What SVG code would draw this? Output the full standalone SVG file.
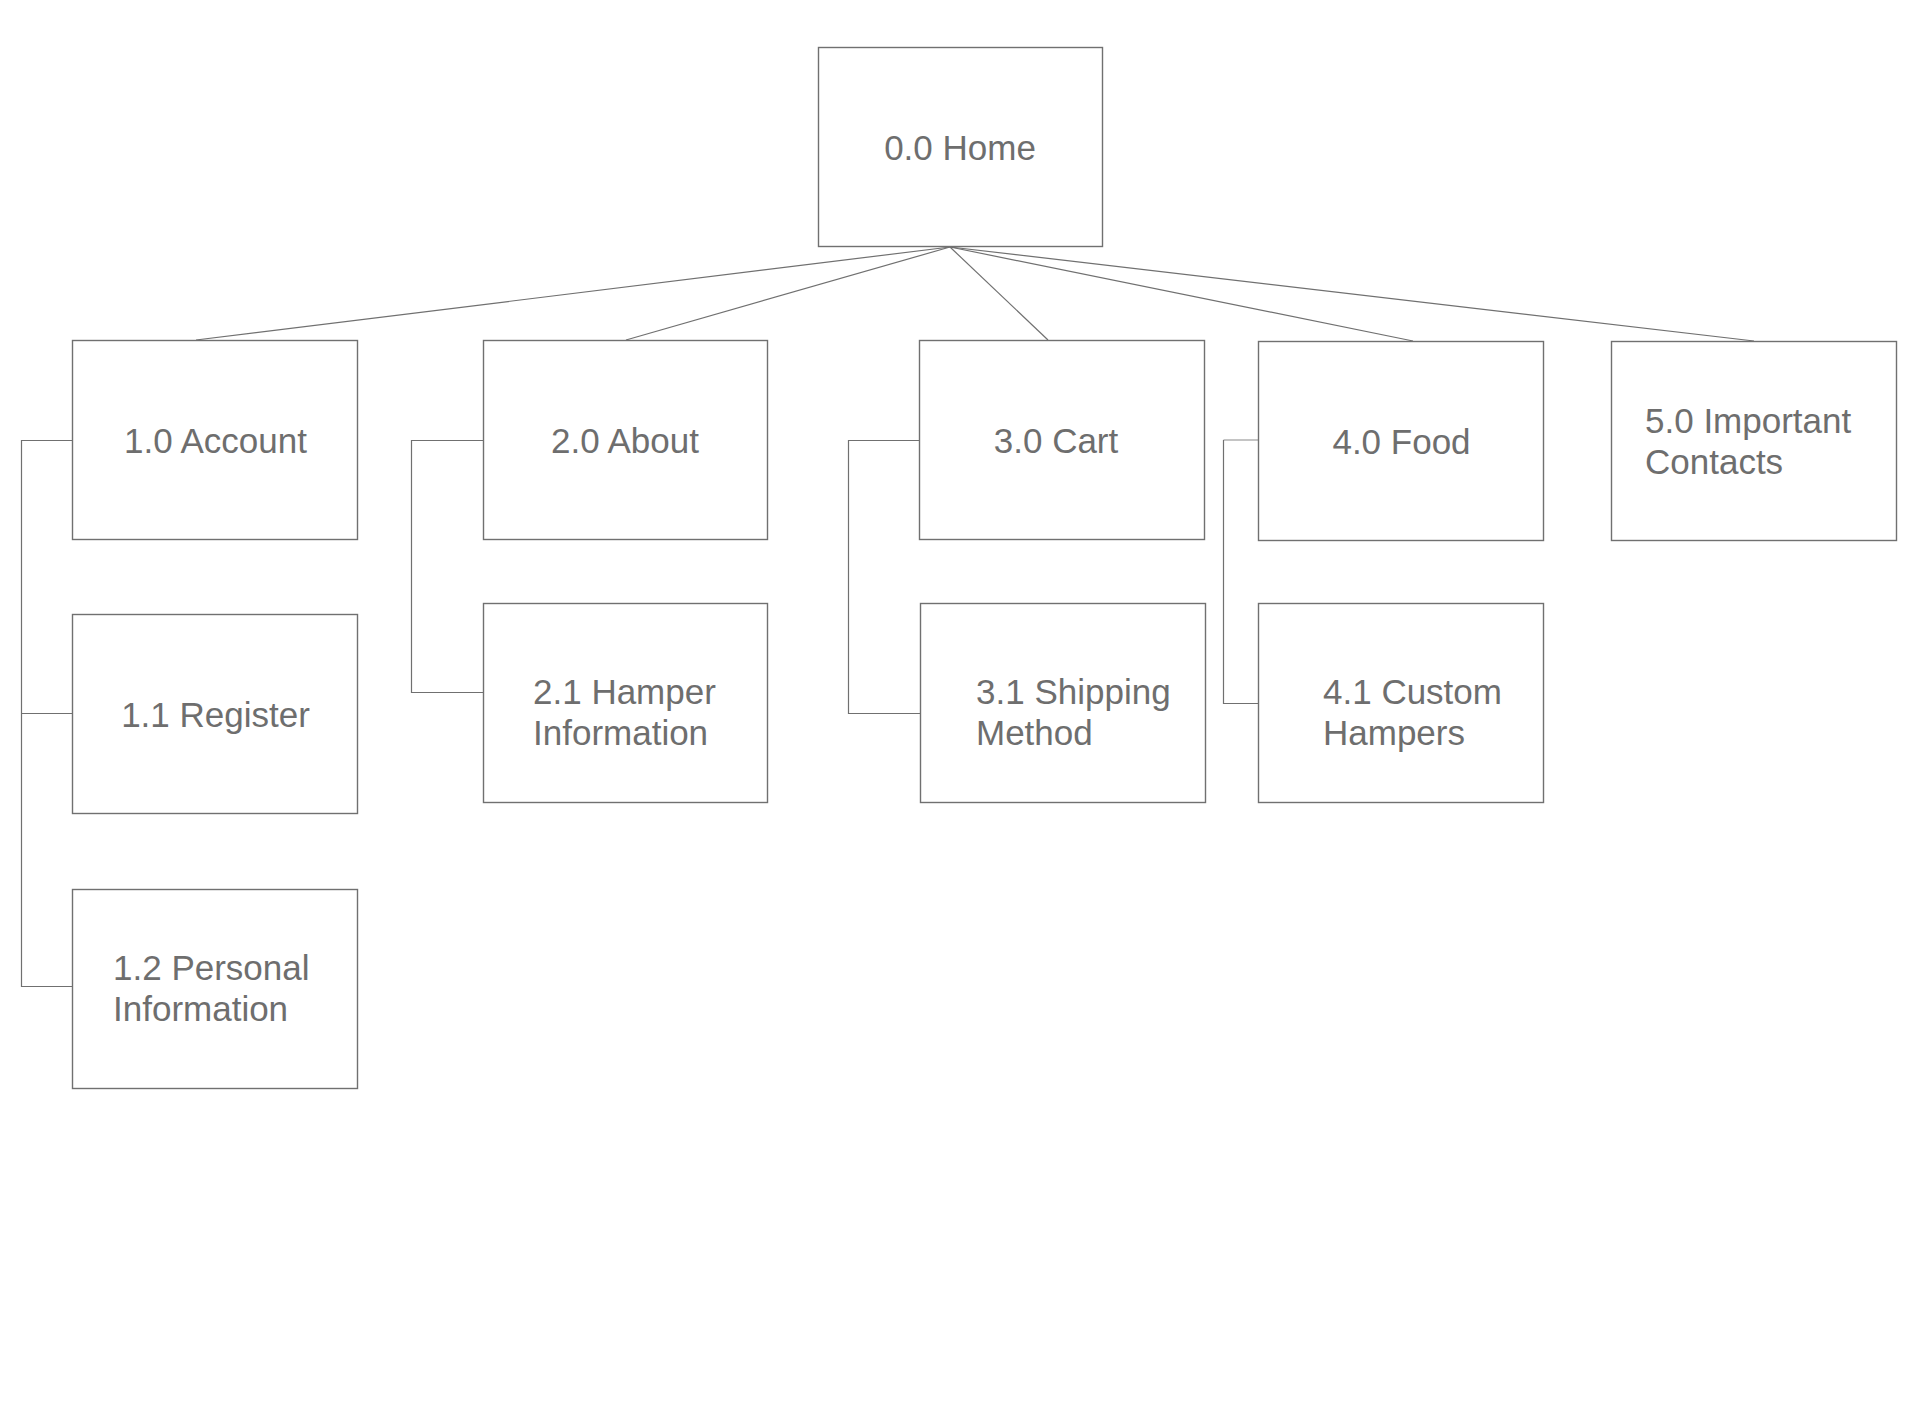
<svg xmlns="http://www.w3.org/2000/svg" width="1920" height="1425" viewBox="0 0 1920 1425">
<style>
.box{fill:#fff;stroke:#707070;stroke-width:1.4}
.t{font-family:"Liberation Sans",Arial,sans-serif;font-size:35px;fill:#6e6e6e}
.c{text-anchor:middle}
.ln{stroke:#707070;stroke-width:1.2;fill:none}
.lt{stroke:#b0b0b0;stroke-width:1.6;fill:none}
</style>
<rect width="1920" height="1425" fill="#fff"/>
<g id="connectors">
<line class="ln" x1="950" y1="247" x2="196" y2="340"/>
<line class="ln" x1="950" y1="247" x2="626" y2="340"/>
<line class="ln" x1="950" y1="247" x2="1048" y2="340"/>
<line class="ln" x1="950" y1="247" x2="1413" y2="341"/>
<line class="ln" x1="950" y1="247" x2="1754" y2="341"/>
<path class="ln" d="M72 440.5H21.5V986.5H72M21.5 713.5H72"/>
<path class="ln" d="M483 440.5H411.5V692.5H483"/>
<path class="ln" d="M919 440.5H848.5V713.5H920"/>
<path class="lt" d="M1258 440H1223.5"/>
<path class="ln" d="M1223.5 440V703.5H1258"/>
</g>
<g id="n00"><rect class="box" x="818.5" y="47.5" width="284" height="199"/><text class="t c" x="960" y="160">0.0 Home</text></g>
<g id="n10"><rect class="box" x="72.5" y="340.5" width="285" height="199"/><text class="t c" x="215.5" y="453">1.0 Account</text></g>
<g id="n20"><rect class="box" x="483.5" y="340.5" width="284" height="199"/><text class="t c" x="625" y="453">2.0 About</text></g>
<g id="n30"><rect class="box" x="919.5" y="340.5" width="285" height="199"/><text class="t c" x="1056" y="453">3.0 Cart</text></g>
<g id="n40"><rect class="box" x="1258.5" y="341.5" width="285" height="199"/><text class="t c" x="1401.5" y="454">4.0 Food</text></g>
<g id="n50"><rect class="box" x="1611.5" y="341.5" width="285" height="199"/><text class="t" x="1645" y="433">5.0 Important</text><text class="t" x="1645" y="474">Contacts</text></g>
<g id="n11"><rect class="box" x="72.5" y="614.5" width="285" height="199"/><text class="t c" x="215.5" y="727">1.1 Register</text></g>
<g id="n12"><rect class="box" x="72.5" y="889.5" width="285" height="199"/><text class="t" x="113" y="980">1.2 Personal</text><text class="t" x="113" y="1021">Information</text></g>
<g id="n21"><rect class="box" x="483.5" y="603.5" width="284" height="199"/><text class="t" x="533" y="704">2.1 Hamper</text><text class="t" x="533" y="745">Information</text></g>
<g id="n31"><rect class="box" x="920.5" y="603.5" width="285" height="199"/><text class="t" x="976" y="704">3.1 Shipping</text><text class="t" x="976" y="745">Method</text></g>
<g id="n41"><rect class="box" x="1258.5" y="603.5" width="285" height="199"/><text class="t" x="1323" y="704">4.1 Custom</text><text class="t" x="1323" y="745">Hampers</text></g>
</svg>
